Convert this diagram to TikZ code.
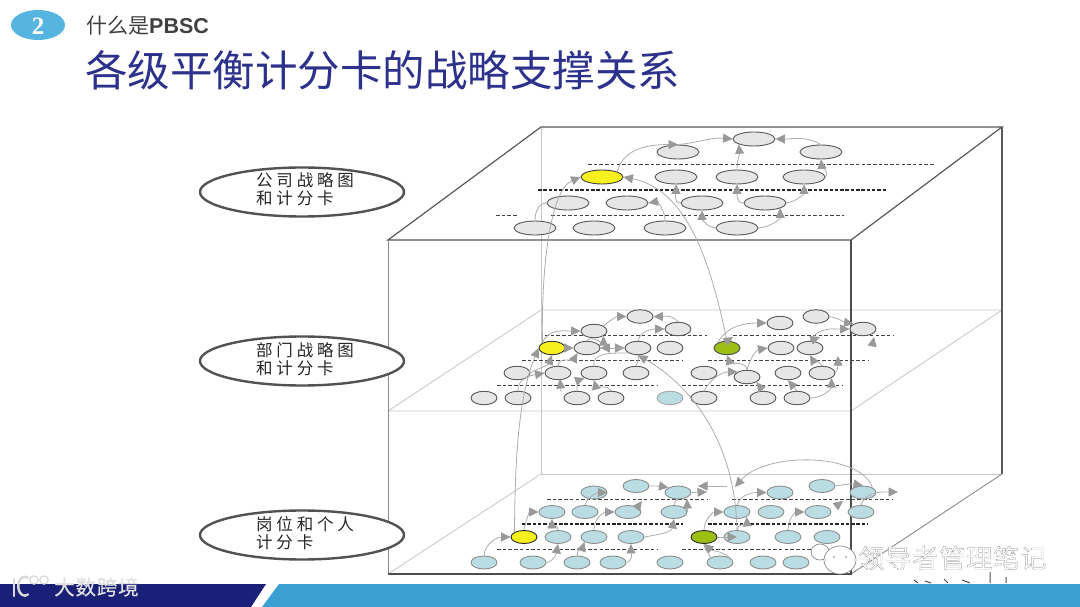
\documentclass[tikz,border=0pt]{standalone}
\usepackage{fontspec}
\usetikzlibrary{shapes.geometric,arrows.meta}
\setmainfont{Liberation Sans}
\newfontfamily\cjk{Noto Sans CJK SC}
\newfontfamily\cjksp[LetterSpace=23]{Noto Sans CJK SC}
\newfontfamily\wmfont[FakeBold=0.6,LetterSpace=4]{Noto Sans CJK SC}
\newfontfamily\numfont{Liberation Serif}
\definecolor{navy}{HTML}{1A1F78}
\definecolor{barblue}{HTML}{3C9FD3}
\definecolor{titleblue}{HTML}{2C318C}
\definecolor{badge}{HTML}{55B4E0}
\definecolor{cellgrey}{HTML}{E6E6E6}
\definecolor{cellblue}{HTML}{B9DDE3}
\definecolor{yel}{HTML}{F5F01E}
\definecolor{grn}{HTML}{9CBF14}
\definecolor{tipgrey}{HTML}{999999}
\tikzset{
 x=1pt,y=-1pt,
 cell/.style={ellipse,inner sep=0pt,line width=.9pt,draw=black!65},
 big/.style={cell,minimum width=42pt,minimum height=14pt,fill=cellgrey},
 bigy/.style={big,fill=yel,draw=black!75},
 mid/.style={cell,minimum width=26pt,minimum height=13.5pt,fill=cellgrey},
 midb/.style={mid,fill=cellblue,draw=black!35},
 midy/.style={mid,fill=yel,draw=black!80},
 midg/.style={mid,fill=grn,draw=black!70},
 low/.style={cell,minimum width=26pt,minimum height=13pt,fill=cellblue,draw=black!45},
 lowy/.style={low,fill=yel,draw=black!85},
 lowg/.style={low,fill=grn,draw=black!85},
 conn/.style={draw=black!32,line width=.8pt,-{Triangle[length=9.5pt,width=9pt,color=tipgrey,fill=tipgrey]}},
 lconn/.style={draw=black!32,line width=.8pt},
 dash1/.style={draw=black!75,line width=.9pt,dash pattern=on 3.5pt off 2.2pt},
 dash2/.style={draw=black!85,line width=1.3pt,dash pattern=on 3.5pt off 1.8pt},
 edgeL/.style={draw=black!22,line width=.8pt},
 edgeM/.style={draw=black!45,line width=.9pt},
 edgeD/.style={draw=black!65,line width=1.2pt},
 edgeX/.style={draw=black!70,line width=1.5pt},
 tier/.style={ellipse,draw=black!68,line width=2.4pt,fill=white,minimum width=204pt,minimum height=49pt,inner sep=0pt},
 tierlab/.style={inner sep=0pt,align=left,anchor=west,font=\fontsize{16.5}{18.5}\selectfont\cjksp,text=black!85},
 wm/.style={inner sep=0pt,anchor=west,text=white,font=\fontsize{26}{28}\selectfont\wmfont},
}
\begin{document}
\begin{tikzpicture}
\useasboundingbox (0,0) rectangle (1080,607);
\fill[white] (0,0) rectangle (1080,607);
% footer
\fill[navy] (0,584) -- (266,584) -- (251,607) -- (0,607) -- cycle;
\fill[barblue] (279,584) -- (1080,584) -- (1080,607) -- (262,607) -- cycle;
% heading
\node[ellipse,fill=badge,minimum width=54pt,minimum height=30pt,inner sep=0pt] (badge) at (38,25) {};
\node[text=white,font=\fontsize{25}{25}\selectfont\numfont\bfseries] (num) at (38,26) {2};
\node[anchor=west,inner sep=0pt,text=black!75] (sub) at (86,26) {\fontsize{21}{24}\selectfont\cjk 什么是\fontsize{21.5}{24}\selectfont\rmfamily\bfseries PBSC};
\node[anchor=west,inner sep=0pt,text=titleblue,font=\fontsize{42.5}{46}\selectfont\cjk] (title) at (85,70) {各级平衡计分卡的战略支撑关系};
% cube: hidden edges and mid plane
\draw[edgeL] (541,127) -- (541,474) -- (1002,474);
\draw[edgeL] (541,474) -- (388,574);
\draw[edgeL] (388,411) -- (541,310) -- (1002,310) -- (851,411) -- cycle;
\draw[edgeM] (851,574) -- (1002,474);
% cube: visible edges
\draw[edgeD] (388,240) -- (541,127) -- (1002,127) -- (851,240) -- cycle;
\draw[edgeD] (1002,127) -- (1002,474);
\draw[edgeM] (388,240) -- (388,574);
\draw[edgeX] (851,240) -- (851,574) -- (388,574);
% dashes
\draw[dash1] (588,164) -- (935,164);
\draw[dash2] (538,190) -- (886,190);
\draw[dash1] (496,215) -- (517,215) (551,215) -- (844,215);
\draw[dash1] (545,335) -- (707,335) (733,335) -- (893,335);
\draw[dash1] (522,360) -- (683,360) (708,360) -- (868,360);
\draw[dash1] (497,385.5) -- (657,385.5) (682,385.5) -- (843,385.5);
\draw[dash1] (547,499) -- (707,499) (732,499) -- (893,499);
\draw[dash2] (522,524) -- (683,524) (708,524) -- (868,524);
\draw[dash1] (497,549.5) -- (657,549.5) (682,549.5) -- (843,549.5);
% top cells
\node[big] (t1) at (754,139) {};
\node[big] (t2) at (678,152) {};
\node[big] (t3) at (821,152) {};
\node[bigy] (ty) at (602,177) {};
\node[big] (t4) at (676,177) {};
\node[big] (t5) at (737,177) {};
\node[big] (t6) at (804,177) {};
\node[big] (t7) at (568,203) {};
\node[big] (t8) at (627,203) {};
\node[big] (t9) at (702,203) {};
\node[big] (t10) at (765,203) {};
\node[big] (t11) at (535,228) {};
\node[big] (t12) at (594,228) {};
\node[big] (t13) at (665,228) {};
\node[big] (t14) at (737,228) {};
% middle cells
\node[mid] (m1) at (640,316.5) {};
\node[mid] (m2) at (678,329) {};
\node[mid] (m3) at (594,331) {};
\node[mid] (m4) at (780,323) {};
\node[mid] (m5) at (816,316.5) {};
\node[mid] (m6) at (863,329) {};
\node[midy] (my) at (552,348) {};
\node[mid] (m7) at (587,348) {};
\node[mid] (m8) at (638,348) {};
\node[mid] (m9) at (670,348) {};
\node[midg] (mg) at (727,348) {};
\node[mid] (m10) at (781,348) {};
\node[mid] (m11) at (810,348) {};
\node[mid] (n1) at (517,373) {};
\node[mid] (n2) at (558,373) {};
\node[mid] (n3) at (594,373) {};
\node[mid] (n4) at (636,373) {};
\node[mid] (n5) at (704,373) {};
\node[mid] (n6) at (747,377) {};
\node[mid] (n7) at (788,373) {};
\node[mid] (n8) at (822,373) {};
\node[mid] (p1) at (484,398) {};
\node[mid] (p2) at (518,398) {};
\node[mid] (p3) at (577,398) {};
\node[mid] (p4) at (611,398) {};
\node[midb] (p5) at (670,398) {};
\node[mid] (p6) at (704,398) {};
\node[mid] (p7) at (763,398) {};
\node[mid] (p8) at (797,398) {};
% bottom cells
\node[low] (a1) at (636,486) {};
\node[low] (a2) at (594,492.5) {};
\node[low] (a3) at (678,492.5) {};
\node[low] (a4) at (780,492.5) {};
\node[low] (a5) at (822,486) {};
\node[low] (a6) at (863,492.5) {};
\node[low] (b1) at (552,512) {};
\node[low] (b2) at (585,512) {};
\node[low] (b3) at (628,512) {};
\node[low] (b4) at (674,512) {};
\node[low] (b5) at (737,512) {};
\node[low] (b6) at (771,512) {};
\node[low] (b7) at (818,512) {};
\node[low] (b8) at (861,512) {};
\node[lowy] (cy) at (524,537) {};
\node[low] (c1) at (558,537) {};
\node[low] (c2) at (594,537) {};
\node[low] (c3) at (631,537) {};
\node[lowg] (cg) at (704,537) {};
\node[low] (c4) at (737,537) {};
\node[low] (c5) at (788,537) {};
\node[low] (c6) at (827,537) {};
\node[low] (d1) at (484,562.5) {};
\node[low] (d2) at (533,562.5) {};
\node[low] (d3) at (577,562.5) {};
\node[low] (d4) at (613,562.5) {};
\node[low] (d5) at (670,562.5) {};
\node[low] (d6) at (720,562.5) {};
\node[low] (d7) at (763,562.5) {};
\node[low] (d8) at (796,562.5) {};
% free ends
\coordinate (f1) at (733,337);
\coordinate (f2) at (838,356);
\coordinate (f3) at (874,337);
\coordinate (f3s) at (872,347);
\coordinate (f4) at (642,501);
\coordinate (f5) at (687,499);
\coordinate (f6) at (707,492);
\coordinate (f7) at (698,486);
\coordinate (f7s) at (727,486);
\coordinate (f8) at (843,501);
\coordinate (f8s) at (835,507);
\coordinate (f9) at (898,492);
\coordinate (f10) at (560,379);
\coordinate (f10s) at (561,392);
\coordinate (f11) at (735,487);
\coordinate (f12) at (820,337);
% top connectors
\draw[conn] (ty.north east) to[out=75,in=180] (t2.north);
\draw[conn] (t2.north) to[out=5,in=175] (t1.west);
\draw[conn] (t3.north) to[out=150,in=0] (t1.east);
\draw[conn] (t5.north) to[out=90,in=-85] (t1.south west);
\draw[conn] (t6.east) to[out=50,in=-85] (t3.south);
\draw[conn] (t9.west) to[out=185,in=-90] (t4.south);
\draw[conn] (t10.west) to[out=185,in=-90] (t5.south);
\draw[conn] (t10.east) to[out=10,in=-90] (t6.south);
\draw[conn] (t14.west) to[out=175,in=-90] (t9.south);
\draw[conn] (t14.east) to[out=5,in=-90] (t10.south east);
\draw[conn] (t13.north) to[out=90,in=10] (t8.east);
\draw[lconn] (t11.north) to[out=90,in=180] (t7.west);
\draw[conn] (my.north west) .. controls (541,270) and (550,190) .. (ty.west);
\draw[conn] (mg.north) .. controls (712,270) and (690,190) .. (ty.east);
% middle connectors
\draw[conn] (my.east) -- (m7.west);
\draw[conn] (my.north west) to[out=70,in=180] (m3.west);
\draw[conn] (m3.north east) to[out=40,in=180] (m1.west);
\draw[conn] (m2.north) to[out=130,in=0] (m1.east);
\draw[conn] (m8.north) to[out=75,in=180] (m2.west);
\draw[conn] (m7.north) to[out=60,in=-90] (m3.south east);
\draw[conn] (m7.east) -- (m8.west);
\draw[conn] (m8.west) -- (m7.east);
\draw[conn] (c4.north) .. controls (735,440) and (690,385) .. (m8.south);
\draw[conn] (cy.north west) .. controls (515,470) and (517,400) .. (my.west);
\draw[conn] (p2.north) to[out=95,in=190] (n2.west);
\draw[conn] (n1.east) to[out=30,in=-110] (my.south);
\draw[conn] (n2.north) to[out=90,in=-120] (m7.south west);
\draw[lconn] (n3.north) to[out=100,in=180] (m8.south west);
\draw[lconn] (n4.north) to[out=70,in=-70] (m8.south);
\draw[conn] (p3.north) to[out=95,in=200] (n3.south west);
\draw[conn] (p4.north) to[out=120,in=-75] (n3.south);
\draw[conn] (f10s) -- (f10);
\draw[conn] (mg.north west) to[out=60,in=180] (m4.west);
\draw[conn] (mg.north) -- (f1);
\draw[conn] (n6.north) to[out=100,in=-70] (mg.south);
\draw[conn] (n6.north) to[out=75,in=190] (m10.west);
\draw[conn] (m5.east) to[out=-10,in=170] (m6.north west);
\draw[conn] (m11.north) to[out=60,in=180] (m6.west);
\draw[conn] (m11.north) -- (f12);
\draw[conn] (f3s) -- (f3);
\draw[conn] (p6.north) to[out=60,in=180] (n6.north west);
\draw[conn] (p7.north) -- (n6.south east);
\draw[conn] (p8.north) -- (n7.south);
\draw[conn] (p8.east) to[out=0,in=-90] (n8.south east);
\draw[conn] (n8.north) to[out=120,in=-60] (m11.south);
\draw[conn] (n8.east) to[out=60,in=-90] (f2);
% bottom connectors
\draw[conn] (d1.north) to[out=85,in=180] (cy.west);
\draw[conn] (d2.east) to[out=10,in=-100] (c1.south);
\draw[conn] (d3.north) to[out=90,in=-110] (c2.south west);
\draw[conn] (d4.east) to[out=10,in=-90] (c3.south);
\draw[conn] (cy.north) to[out=80,in=180] (b1.west);
\draw[conn] (c1.north) to[out=85,in=-90] (b1.south);
\draw[conn] (c2.north) to[out=95,in=180] (b3.west);
\draw[conn] (c3.east) to[out=10,in=-100] (b4.south);
\draw[conn] (b2.north) to[out=70,in=180] (a2.east);
\draw[conn] (a1.east) to[out=0,in=170] (a3.north west);
\draw[conn] (b3.north east) -- (f4);
\draw[lconn] (b4.north) to[out=100,in=-130] (a3.south);
\draw[conn] (b4.east) -- (f5);
\draw[conn] (a3.east) -- (f6);
\draw[conn] (f7s) -- (f7);
\draw[conn] (a6.north east) .. controls (860,452) and (765,452) .. (f11);
\draw[conn] (cg.north) to[out=90,in=180] (b5.west);
\draw[conn] (b5.north) to[out=70,in=180] (a4.west);
\draw[conn] (c4.north) to[out=90,in=-85] (b5.south east);
\draw[conn] (cg.east) -- (c4.center);
\draw[conn] (d6.north east) to[out=140,in=-40] (cg.south);
\draw[lconn] (d6.north west) to[out=110,in=-90] (cg.south);
\draw[conn] (c5.north) to[out=90,in=180] (b7.west);
\draw[conn] (a5.east) to[out=10,in=170] (a6.north);
\draw[conn] (f8s) -- (f8);
\draw[conn] (b8.north) to[out=70,in=180] (f9);
% tier labels
\node[tier] (e1) at (302,192) {};
\node[tier] (e2) at (302,361) {};
\node[tier] (e3) at (302,535) {};
\node[tierlab] (l1) at (256,189) {公司战略图\\和计分卡};
\node[tierlab] (l2) at (256,359) {部门战略图\\和计分卡};
\node[tierlab] (l3) at (256,533) {岗位和个人\\计分卡};
% stray fragments of cut-off print along the lower edge
\draw[black!70,line width=1pt] (990,572) -- (990,583) (1006,577) -- (1006,583) (914,580) -- (918,583) (925,581) -- (931,583) (944,579) -- (948,583) (962,580) -- (970,583);
% watermarks
\draw[black!45,fill=white,line width=.7pt] (820,552) ellipse (9pt and 8pt);
\draw[black!45,fill=white,line width=.7pt] (840,560) ellipse (16pt and 14pt);
\foreach \x in {834,846} \fill[black!50] (\x,557) circle (.9pt);
\node[wm] (w1) at (858,558) {\special{pdf:code 0.45 G}领导者管理笔记};
\node[wm,font=\fontsize{20.5}{24}\selectfont\wmfont,text=white!88!black] (w2) at (54,587) {大数跨境};
\draw[white!85!black,line width=2.4pt,line cap=round] (14,579) -- (14,596);
\draw[white!85!black,line width=2.4pt,line cap=round] (28,578) arc (60:300:6.5pt and 9.5pt);
\foreach \x in {34,44} \draw[white!85!black,line width=1.2pt] (\x,580) circle (4.2pt);
\end{tikzpicture}
\end{document}
